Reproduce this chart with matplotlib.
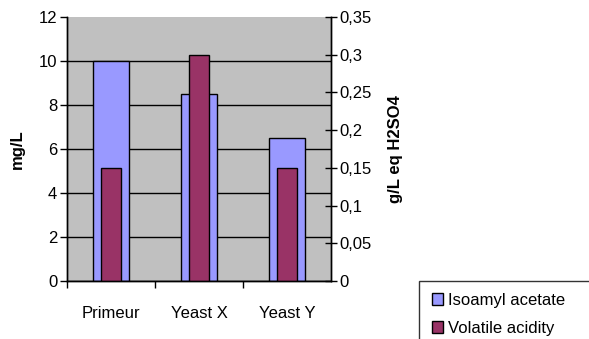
import numpy as np
import matplotlib
matplotlib.use("Agg")
import matplotlib.pyplot as plt

plt.rcParams['font.family'] = ['Liberation Sans', 'DejaVu Sans']

# values
categories = ["Primeur", "Yeast X", "Yeast Y"]
isoamyl = [10.0, 8.5, 6.5]          # mg/L, left axis
volatile = [0.15, 0.30, 0.15]       # g/L eq H2SO4, right axis

x = np.arange(len(categories))
fs = 12

fig = plt.figure(figsize=(5.89, 3.39), dpi=100)
ax = fig.add_axes([67/589, 1 - 281/339, 264/589, 264/339])
ax.set_facecolor('#c0c0c0')
ax.set_axisbelow(True)

ax.bar(x, isoamyl, width=0.41, color='#9999ff', edgecolor='black', linewidth=1,
       label="Isoamyl acetate")
ax.set_xlim(-0.5, 2.5)
ax.set_ylim(0, 12)
ax.set_yticks(np.arange(0, 13, 2))
ax.tick_params(axis='y', direction='out', length=5, width=1, labelsize=fs, pad=2)
ax.yaxis.grid(True, color='black', linewidth=1)
ax.yaxis.get_gridlines()[-1].set_visible(False)
ax.set_ylabel("mg/L", fontsize=fs, fontweight='bold', labelpad=10)

# category ticks at the boundaries, labels in the middle
ax.set_xticks([-0.5, 0.5, 1.5])
ax.set_xticklabels([])
ax.set_xticks(x, minor=True)
ax.set_xticklabels(categories, minor=True, fontsize=fs)
ax.tick_params(axis='x', which='major', direction='out', length=5, width=1)
ax.tick_params(axis='x', which='minor', length=0, pad=18)

ax2 = ax.twinx()
ax2.patch.set_visible(False)
ax2.bar(x, volatile, width=0.22, color='#993366', edgecolor='black', linewidth=1,
        label="Volatile acidity")
ax2.set_ylim(0, 0.35)
ax2.set_yticks(np.arange(0, 0.351, 0.05))
ax2.set_yticklabels(["0", "0,05", "0,1", "0,15", "0,2", "0,25", "0,3", "0,35"])
ax2.tick_params(axis='y', direction='inout', length=8, width=1, labelsize=fs, pad=2)
ax2.set_ylabel("g/L eq H2SO4", fontsize=fs, fontweight='bold', labelpad=12)

for a in (ax, ax2):
    a.spines['top'].set_visible(False)
    a.spines['left'].set_linewidth(1)
    a.spines['right'].set_linewidth(1)
    a.spines['bottom'].set_linewidth(1)

h1, l1 = ax.get_legend_handles_labels()
h2, l2 = ax2.get_legend_handles_labels()
leg = fig.legend(h1 + h2, l1 + l2, loc='upper left',
                 bbox_to_anchor=(419/589, 1 - 284/339, 0.35, 0.01), mode='expand',
                 fontsize=fs, frameon=True, fancybox=False, edgecolor='black',
                 handlelength=0.7, handleheight=0.7, handletextpad=0.3,
                 labelspacing=0.75, borderaxespad=0, borderpad=0.75)
leg.get_frame().set_linewidth(1)

fig.savefig("out.png", dpi=100)
